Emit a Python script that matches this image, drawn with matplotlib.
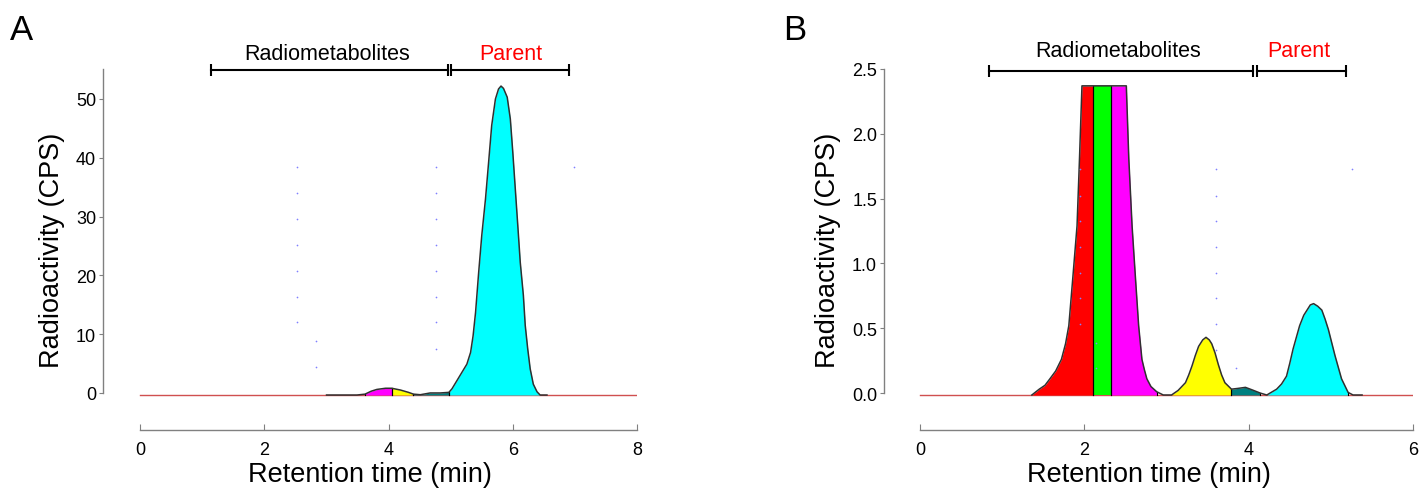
import matplotlib
matplotlib.use('Agg')
import matplotlib.pyplot as plt
import numpy as np

plt.rcParams['font.family'] = ['Liberation Sans', 'DejaVu Sans']

# ---- panel A: trace (min, CPS)
time_a = [3.0, 3.49, 3.62, 3.72, 3.81, 3.95, 4.05, 4.19, 4.32, 4.40, 4.51, 4.67,
          4.83, 4.97, 5.02, 5.10, 5.18, 5.26, 5.32, 5.36, 5.40, 5.45, 5.50, 5.56,
          5.61, 5.66, 5.72, 5.77, 5.81, 5.85, 5.91, 5.96, 6.00, 6.04, 6.08, 6.12,
          6.17, 6.20, 6.24, 6.28, 6.33, 6.39, 6.44, 6.55]
cps_a = [-0.35, -0.35, -0.2, 0.3, 0.6, 0.8, 0.8, 0.5, 0.1, -0.2, -0.3, 0.0,
         0.0, 0.1, 0.7, 2.1, 3.5, 4.9, 6.9, 9.7, 13.7, 20.5, 26.8, 33.0,
         39.2, 45.5, 50.0, 51.7, 52.2, 51.8, 50.3, 46.6, 40.9, 34.7, 28.5, 22.2,
         16.6, 11.5, 7.5, 4.1, 1.5, 0.2, -0.35, -0.35]
segments_a = [(3.62, 4.05, '#ff00ff'), (4.05, 4.40, '#ffff00'),
              (4.40, 4.97, '#008080'), (4.97, 6.44, '#00ffff')]
baseline_a = -0.35
dots_a_x = [2.53] * 7 + [2.83, 2.83] + [4.77] * 8 + [6.99]
dots_a_y = [38.4, 34.0, 29.6, 25.2, 20.7, 16.3, 12.0, 8.8, 4.4,
            38.4, 34.0, 29.6, 25.2, 20.7, 16.3, 12.0, 7.5, 38.4]

# ---- panel B
time_b = [1.36, 1.45, 1.52, 1.58, 1.65, 1.72, 1.77, 1.81, 1.86, 1.91, 1.94, 1.97,
          2.10, 2.32, 2.51, 2.54, 2.58, 2.62, 2.66, 2.70, 2.73, 2.76, 2.81, 2.88,
          2.96, 3.06, 3.14, 3.23, 3.27, 3.31, 3.35, 3.39, 3.44, 3.48, 3.52, 3.55,
          3.59, 3.63, 3.67, 3.71, 3.79, 3.87, 3.96, 4.04, 4.14, 4.22, 4.34, 4.40,
          4.46, 4.50, 4.54, 4.62, 4.67, 4.71, 4.75, 4.79, 4.84, 4.89, 4.93, 4.97,
          5.05, 5.13, 5.21, 5.27, 5.38]
cps_b = [-0.015, 0.03, 0.06, 0.11, 0.17, 0.26, 0.38, 0.52, 0.90, 1.29, 1.81, 2.37,
         2.37, 2.37, 2.37, 1.81, 1.29, 0.90, 0.52, 0.26, 0.18, 0.11, 0.05, 0.01,
         -0.015, -0.015, 0.02, 0.08, 0.14, 0.21, 0.29, 0.36, 0.41, 0.43, 0.41, 0.38,
         0.31, 0.22, 0.14, 0.08, 0.03, 0.036, 0.044, 0.025, 0.0, -0.015, 0.03, 0.07,
         0.13, 0.23, 0.34, 0.52, 0.60, 0.64, 0.68, 0.69, 0.67, 0.64, 0.57, 0.49,
         0.29, 0.11, 0.005, -0.015, -0.015]
segments_b = [(1.36, 2.10, '#ff0000'), (2.10, 2.32, '#00ff00'),
              (2.32, 2.88, '#ff00ff'), (3.06, 3.79, '#ffff00'),
              (3.79, 4.14, '#008080'), (4.22, 5.21, '#00ffff')]
baseline_b = -0.015
dots_b_x = [1.94] * 7 + [2.14, 2.14] + [3.60] * 8 + [3.85, 5.26]
dots_b_y = [1.73, 1.52, 1.33, 1.13, 0.93, 0.73, 0.53, 0.39, 0.19,
            1.73, 1.52, 1.33, 1.13, 0.93, 0.73, 0.53, 0.33, 0.19, 1.73]


def panel(ax, t, c, segs, base, dx, dy, xmax, xlim0, ylim, yticks, yfmt,
          brackets, labels):
    t = np.array(t)
    c = np.array(c)
    ax.plot([0, xmax], [base, base], color='#d05050', lw=1.0, zorder=1)
    for lo, hi, col in segs:
        m = (t >= lo - 1e-9) & (t <= hi + 1e-9)
        ax.fill_between(t[m], base, c[m], color=col, lw=0, zorder=2)
        ax.plot([lo, lo], [base, c[m][0]], color='k', lw=0.8, zorder=3)
        ax.plot([hi, hi], [base, c[m][-1]], color='k', lw=0.8, zorder=3)
    ax.plot(t, c, color='#303030', lw=1.1, zorder=4)
    ax.scatter(dx, dy, s=1.5, color='#8080ff', zorder=5, lw=0)

    ax.set_xlim(xlim0, xmax)
    ax.set_ylim(*ylim)
    for s in ['top', 'right']:
        ax.spines[s].set_visible(False)
    ax.spines['left'].set_bounds(0, ylim[1])
    ax.spines['bottom'].set_bounds(0, xmax)
    for s in ['left', 'bottom']:
        ax.spines[s].set_color('#808080')
        ax.spines[s].set_linewidth(1.0)
    ax.set_xticks(range(0, xmax + 1, 2))
    ax.set_yticks(yticks)
    ax.set_yticklabels([yfmt.format(v) for v in yticks])
    ax.tick_params(axis='y', direction='out', length=3, color='#808080',
                   labelsize=13, pad=2)
    ax.tick_params(axis='x', direction='in', length=4, color='#808080',
                   labelsize=13, pad=8)
    ax.set_xlabel('Retention time (min)', fontsize=19.5, labelpad=2)
    ax.set_ylabel('Radioactivity (CPS)', fontsize=19.5, labelpad=8)

    for (x0, x1, yb), (txt, tx, ty, col) in zip(brackets, labels):
        ax.plot([x0, x1], [yb, yb], color='k', lw=1.5, marker='|', ms=8,
                mew=1.5, clip_on=False, zorder=6)
        ax.text(tx, ty, txt, color=col, fontsize=15.5, ha='center',
                va='center', clip_on=False)


fig = plt.figure(figsize=(14.26, 4.89), dpi=100)
ax_a = fig.add_axes([103 / 1426, 58 / 489, 534 / 1426, 361 / 489])
ax_b = fig.add_axes([884 / 1426, 58 / 489, 529 / 1426, 361 / 489])

panel(ax_a, time_a, cps_a, segments_a, baseline_a, dots_a_x, dots_a_y,
      8, -0.6, (-6.3, 55.1), [0, 10, 20, 30, 40, 50], '{:d}',
      [(1.14, 4.96, 54.9), (5.0, 6.9, 54.9)],
      [('Radiometabolites', 3.01, 57.7, 'k'), ('Parent', 5.97, 57.7, 'red')])
panel(ax_b, time_b, cps_b, segments_b, baseline_b, dots_b_x, dots_b_y,
      6, -0.44, (-0.285, 2.5), [0, 0.5, 1.0, 1.5, 2.0, 2.5], '{:.1f}',
      [(0.84, 4.05, 2.485), (4.1, 5.18, 2.485)],
      [('Radiometabolites', 2.41, 2.64, 'k'), ('Parent', 4.61, 2.64, 'red')])

fig.text(10 / 1426, 1 - 30 / 489, 'A', fontsize=25, va='center', ha='left')
fig.text(783 / 1426, 1 - 30 / 489, 'B', fontsize=25, va='center', ha='left')

fig.savefig('out.png', dpi=100)
